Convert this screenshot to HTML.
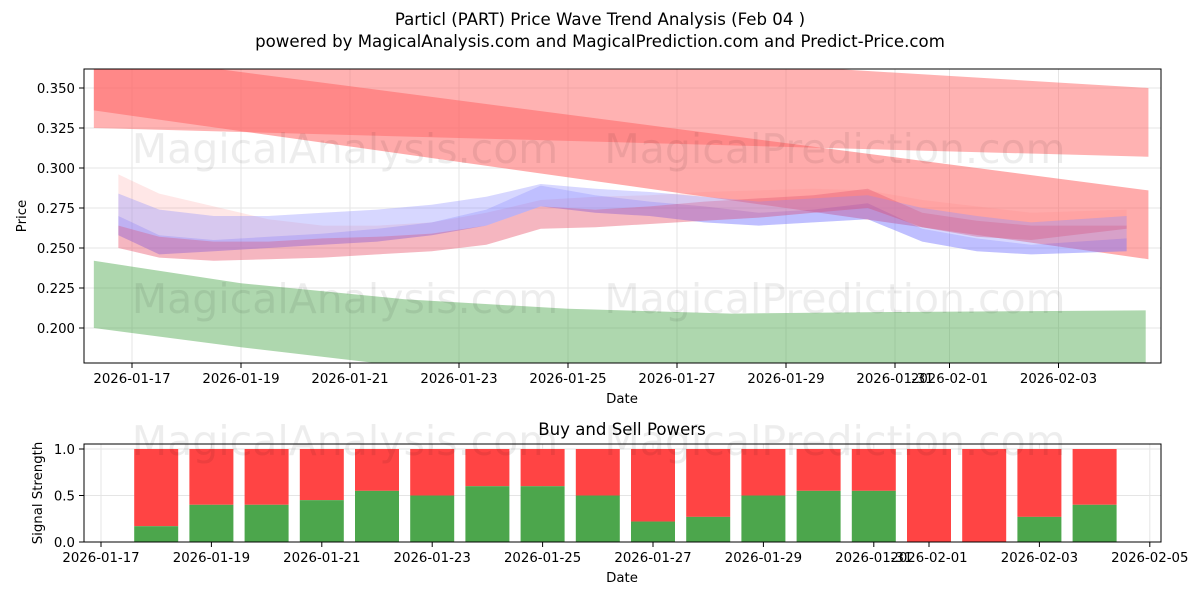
<!DOCTYPE html>
<html><head><meta charset="utf-8"><style>
body{margin:0;background:#fff;font-family:"DejaVu Sans","Liberation Sans",sans-serif}
svg text{font-family:"DejaVu Sans","Liberation Sans",sans-serif}
</style></head><body>
<svg id="c" width="1200" height="600" xmlns="http://www.w3.org/2000/svg"></svg>
<script>
// ---- data ----
const days = [-0.25,0.5,1.5,2.5,3.5,4.5,5.5,6.5,7.5,8.5,9.5,10.5,11.5,12.5,13.5,14.5,15.5,16.5,18.25];
const blueA = [0.270,0.258,0.255,0.257,0.259,0.262,0.266,0.274,0.289,0.283,0.279,0.276,0.272,0.274,0.278,0.262,0.256,0.252,0.256];
const blueB = [0.258,0.246,0.248,0.250,0.252,0.254,0.258,0.264,0.276,0.272,0.270,0.266,0.264,0.266,0.268,0.254,0.248,0.246,0.248];
const blueC = [0.284,0.274,0.270,0.270,0.272,0.274,0.277,0.282,0.290,0.287,0.285,0.282,0.279,0.281,0.283,0.275,0.270,0.266,0.270];
const redA = [0.264,0.257,0.254,0.254,0.256,0.257,0.259,0.264,0.276,0.274,0.276,0.279,0.281,0.283,0.287,0.272,0.267,0.264,0.264];
const redB = [0.250,0.244,0.242,0.243,0.244,0.246,0.248,0.252,0.262,0.263,0.265,0.267,0.269,0.272,0.275,0.263,0.257,0.255,0.262];
const redC = [0.296,0.284,0.276,0.268,0.264,0.264,0.266,0.272,0.280,0.282,0.283,0.285,0.286,0.287,0.286,0.280,0.276,0.272,0.274];
const bandX = [-0.7, 18.65];
const trend1Up = [0.372,0.286], trend1Lo=[0.336,0.243];
const trend2Up = [0.390,0.350], trend2Lo=[0.325,0.307];
const greenX = [-0.7,2,5,8,11,14,18.6];
const greenUp = [0.242,0.228,0.218,0.212,0.209,0.210,0.211];
const greenLo = [0.200,0.188,0.176,0.168,0.164,0.163,0.178];
const yTicks = [0.200,0.225,0.250,0.275,0.300,0.325,0.350];
const xTickDays = [0,2,4,6,8,10,12,14,15,17];
const xTickLabels = ["2026-01-17","2026-01-19","2026-01-21","2026-01-23","2026-01-25","2026-01-27","2026-01-29","2026-01-31","2026-02-01","2026-02-03"];
const barDays = [1,2,3,4,5,6,7,8,9,10,11,12,13,14,15,16,17,18];
const buyVals = [0.17,0.40,0.40,0.45,0.55,0.50,0.60,0.60,0.50,0.22,0.27,0.50,0.55,0.55,0,0,0.27,0.40];
const bxTickDays = [0,2,4,6,8,10,12,14,15,17,19];
const bxTickLabels = ["2026-01-17","2026-01-19","2026-01-21","2026-01-23","2026-01-25","2026-01-27","2026-01-29","2026-01-31","2026-02-01","2026-02-03","2026-02-05"];
const byTicks = [0,0.5,1.0];
// ---- drawing ----
const S=document.getElementById('c'),NS='http://www.w3.org/2000/svg';
function el(t,a,p){const e=document.createElementNS(NS,t);for(const k in a)e.setAttribute(k,a[k]);(p||S).appendChild(e);return e;}
const X=d=>132+d*54.5, Y=v=>88+(0.35-v)*1600;
const BX=d=>101+d*55.2, BY=v=>542-v*93;
const defs=el('defs',{});const cp=el('clipPath',{id:'cl'},defs);el('rect',{x:84,y:69,width:1077,height:294},cp);
let t=el('text',{x:600,y:25,'text-anchor':'middle','font-size':16.6});t.textContent='Particl (PART) Price Wave Trend Analysis (Feb 04 )';
t=el('text',{x:600,y:47,'text-anchor':'middle','font-size':16.6});t.textContent='powered by MagicalAnalysis.com and MagicalPrediction.com and Predict-Price.com';
yTicks.forEach(v=>{el('line',{x1:84,x2:1161,y1:Y(v),y2:Y(v),stroke:'#e5e5e5'});el('line',{x1:79,x2:84,y1:Y(v),y2:Y(v),stroke:'#000'});
 const tt=el('text',{x:75,y:Y(v)+5,'text-anchor':'end','font-size':13.3});tt.textContent=v.toFixed(3);});
xTickDays.forEach((d,i)=>{el('line',{x1:X(d),x2:X(d),y1:69,y2:363,stroke:'#e5e5e5'});el('line',{x1:X(d),x2:X(d),y1:363,y2:368,stroke:'#000'});
 const tt=el('text',{x:X(d),y:383,'text-anchor':'middle','font-size':13.3});tt.textContent=xTickLabels[i];});
const g=el('g',{'clip-path':'url(#cl)'});
function band(xs,up,lo,fill,op,name){let p=xs.map((d,i)=>X(d)+','+Y(up[i]));for(let i=xs.length-1;i>=0;i--)p.push(X(xs[i])+','+Y(lo[i]));
 const e=el('polygon',{points:p.join(' '),fill:fill,'fill-opacity':op},g);}
band(bandX,trend2Up,trend2Lo,'#ff6666',0.5,'trend-band-upper');
band(bandX,trend1Up,trend1Lo,'#ff6666',0.55,'trend-band-red');
band(greenX,greenUp,greenLo,'#4ca64c',0.45,'trend-band-green');
band(days,redC,redB,'#ff8888',0.2,'red-wave-band');
band(days,blueC,blueB,'#8888ff',0.22,'blue-wave-band');
band(days,blueA,blueB,'#6666ff',0.3,'blue-wave-core');
band(days,redA,redB,'#dd4466',0.3,'red-wave-core');
band(days,blueC,blueA,'#9999ff',0.18,'blue-wave-upper');
[[345,163],[835,163],[345,313],[835,313]].forEach((p,i)=>{const w=el('text',{x:p[0],y:p[1],'text-anchor':'middle','font-size':41,fill:'#000','fill-opacity':0.07});w.textContent=i%2?'MagicalPrediction.com':'MagicalAnalysis.com';});
el('rect',{x:84,y:69,width:1077,height:294,fill:'none',stroke:'#000'});
t=el('text',{x:622,y:403,'text-anchor':'middle','font-size':13.3});t.textContent='Date';
t=el('text',{x:26,y:216,'text-anchor':'middle','font-size':13.3,transform:'rotate(-90 26 216)'});t.textContent='Price';
t=el('text',{x:622,y:435,'text-anchor':'middle','font-size':16.6});t.textContent='Buy and Sell Powers';
byTicks.forEach(v=>{el('line',{x1:84,x2:1161,y1:BY(v),y2:BY(v),stroke:'#e5e5e5'});el('line',{x1:79,x2:84,y1:BY(v),y2:BY(v),stroke:'#000'});
 const tt=el('text',{x:75,y:BY(v)+5,'text-anchor':'end','font-size':13.3});tt.textContent=v.toFixed(1);});
bxTickDays.forEach((d,i)=>{el('line',{x1:BX(d),x2:BX(d),y1:444,y2:542,stroke:'#e5e5e5'});el('line',{x1:BX(d),x2:BX(d),y1:542,y2:547,stroke:'#000'});
 const tt=el('text',{x:BX(d),y:562,'text-anchor':'middle','font-size':13.3});tt.textContent=bxTickLabels[i];});
barDays.forEach((d,i)=>{const x=BX(d)-22;
 const r=el('rect',{x:x,y:BY(1),width:44,height:BY(buyVals[i])-BY(1),fill:'#ff4444'});
 const b=el('rect',{x:x,y:BY(buyVals[i]),width:44,height:542-BY(buyVals[i]),fill:'#4ca64c'});});
[[345,455],[835,455]].forEach((p,i)=>{const w=el('text',{x:p[0],y:p[1],'text-anchor':'middle','font-size':41,fill:'#000','fill-opacity':0.07});w.textContent=i?'MagicalPrediction.com':'MagicalAnalysis.com';});
el('rect',{x:84,y:444,width:1077,height:98,fill:'none',stroke:'#000'});
t=el('text',{x:622,y:582,'text-anchor':'middle','font-size':13.3});t.textContent='Date';
t=el('text',{x:42,y:493,'text-anchor':'middle','font-size':13.3,transform:'rotate(-90 42 493)'});t.textContent='Signal Strength';
</script>
</body></html>
